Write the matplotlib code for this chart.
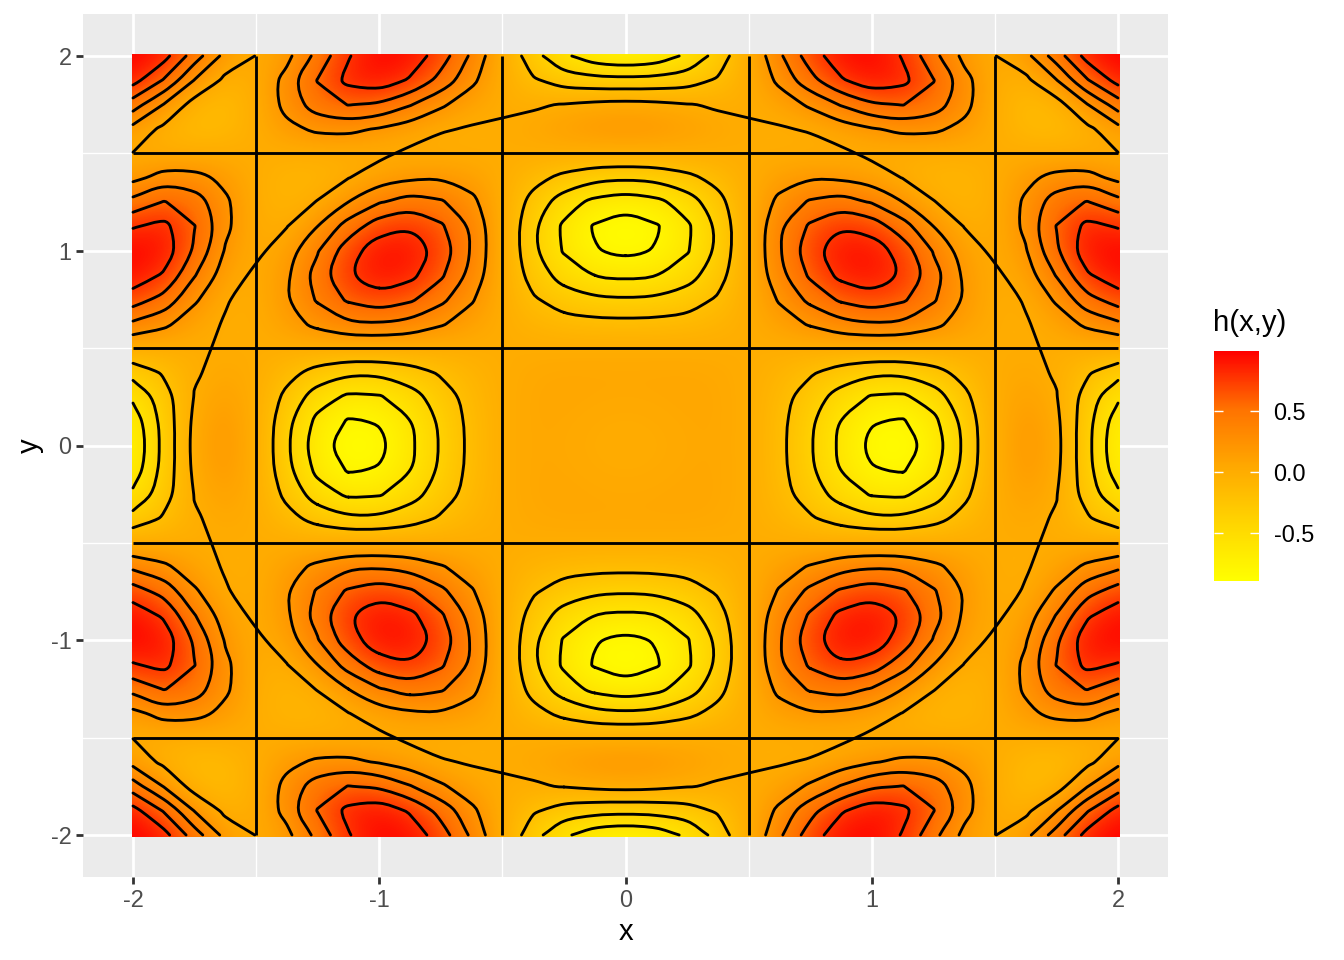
import numpy as np
import matplotlib
matplotlib.use("Agg")
import matplotlib.pyplot as plt
from matplotlib.colors import LinearSegmentedColormap, Normalize
from matplotlib.patches import Rectangle, PathPatch
from matplotlib.path import Path
from matplotlib.cm import ScalarMappable

plt.rcParams['font.family'] = ['Liberation Sans', 'DejaVu Sans']
plt.rcParams['axes.unicode_minus'] = False

# Surface estimates for the quadrant x>=0, y>=0 (rows: y, columns: x), step 0.125
grid_pos = [0, .125, .25, .375, .5, .625, .75, .875, 1, 1.125, 1.25, 1.375, 1.5, 1.625, 1.75, 1.875, 2]
h_quadrant = [
 [0,.014,.044,.054,0,-.146,-.377,-.640,-.841,-.881,-.707,-.363,0,.184,.056,-.338,-.757],
 [.014,.027,.051,.055,0,-.140,-.357,-.601,-.785,-.818,-.653,-.334,0,.165,.041,-.324,-.708],
 [.044,.051,.062,.055,0,-.118,-.293,-.481,-.618,-.634,-.499,-.251,0,.115,.008,-.276,-.563],
 [.054,.055,.055,.041,0,-.074,-.175,-.278,-.348,-.349,-.268,-.131,0,.052,-.017,-.174,-.322],
 [0,0,0,0,0,0,0,0,0,0,0,0,0,0,0,0,0],
 [-.146,-.140,-.118,-.074,0,.103,.221,.324,.377,.352,.251,.111,0,-.016,.083,.245,.363],
 [-.377,-.357,-.293,-.175,0,.221,.451,.634,.707,.632,.425,.172,0,.017,.232,.526,.699],
 [-.640,-.601,-.481,-.278,0,.324,.634,.853,.906,.765,.475,.165,0,.092,.414,.775,.923],
 [-.841,-.785,-.618,-.348,0,.377,.707,.906,.909,.709,.386,.095,0,.183,.563,.906,.959],
 [-.881,-.818,-.634,-.349,0,.352,.632,.765,.709,.488,.201,-.005,0,.245,.606,.851,.786],
 [-.707,-.653,-.499,-.268,0,.251,.425,.475,.386,.201,.008,-.083,0,.236,.498,.610,.467],
 [-.363,-.334,-.251,-.131,0,.111,.172,.165,.095,-.005,-.083,-.087,0,.144,.263,.272,.147],
 [0,0,0,0,0,0,0,0,0,0,0,0,0,0,0,0,0],
 [.184,.165,.115,.052,0,-.016,.017,.092,.183,.245,.236,.144,0,-.123,-.148,-.045,.134],
 [.056,.041,.008,-.017,0,.083,.232,.414,.563,.606,.498,.263,0,-.148,-.079,.190,.497],
 [-.338,-.324,-.276,-.174,0,.245,.526,.775,.906,.851,.610,.272,0,-.045,.190,.581,.872],
 [-.757,-.708,-.563,-.322,0,.363,.699,.923,.959,.786,.467,.147,0,.134,.497,.872,.989],
]
contour_levels = [-.8, -.6, -.4, -.2, .2, .4, .6, .8]
zero_lines = [-1.5, -.5, .5, 1.5]  # straight parts of the 0 contour
fill_limits = [-.89, .99]
x_ticks = [-2, -1, 0, 1, 2]
x_minor = [-1.5, -.5, .5, 1.5]
legend_ticks = [-.5, 0, .5]
legend_labels = ['-0.5', '0.0', '0.5']

q = np.array(h_quadrant)
z = np.vstack([q[:0:-1], q])
z = np.hstack([z[:, :0:-1], z])
gp = np.array(grid_pos)
coord = np.concatenate([-gp[:0:-1], gp])

W, H = 1344, 960
fig = plt.figure(figsize=(W / 100, H / 100), dpi=100, facecolor='white')
def axes_px(l, t, r, b):
    return fig.add_axes([l / W, 1 - b / H, (r - l) / W, (b - t) / H])

ax = axes_px(83, 14, 1168, 877)
ax.set_facecolor('#EBEBEB')
XL, YL = 2.203, 2.2157
for s in ax.spines.values():
    s.set_visible(False)

cmap = LinearSegmentedColormap.from_list('yr', [
    (0, '#FFFF00'), (.25, '#FFD500'), (.5, '#FFA800'), (.75, '#FF7200'), (1, '#FF0000')])
norm = Normalize(*fill_limits)

ax.set_xticks(x_ticks)
ax.set_yticks(x_ticks)
ax.set_xticks(x_minor, minor=True)
ax.set_yticks(x_minor, minor=True)
ax.grid(True, which='major', color='white', lw=2.0, zorder=1)
ax.grid(True, which='minor', color='white', lw=1.0, zorder=1)
ax.set_axisbelow(True)
ax.tick_params(which='minor', length=0)
ax.tick_params(which='major', length=5.3, width=2.0, color='#333333',
               labelcolor='#4D4D4D', labelsize=16.9, pad=3)

step = gp[1] - gp[0]
im = ax.imshow(z, origin='lower', extent=[-2 - step / 2, 2 + step / 2, -2 - step / 2, 2 + step / 2],
               cmap=cmap, norm=norm, interpolation='bicubic', aspect='auto', zorder=2)
im.set_clip_path(Rectangle((-2.005, -2.012), 4.01, 4.024, transform=ax.transData))

LW = 2.05
def rounded_path(seg):
    """Draw a contour polyline with rounded joins; the vertices stay those of the library."""
    keep = [seg[0]]
    for p in seg[1:]:
        if np.hypot(*(p - keep[-1])) > 2e-3:
            keep.append(p)
    pts = np.array(keep)
    closed = np.hypot(*(seg[0] - seg[-1])) < 1e-9 and len(pts) > 3
    if closed and np.hypot(*(pts[0] - pts[-1])) < 2e-3:
        pts = pts[:-1]
    n = len(pts)
    if n < 2:
        return None
    tang = np.zeros_like(pts)
    for i in range(n):
        a = pts[(i - 1) % n] if (closed or i > 0) else pts[i]
        b = pts[(i + 1) % n] if (closed or i < n - 1) else pts[i]
        d = b - a
        tang[i] = d / max(np.hypot(*d), 1e-9)
    verts, codes = [pts[0]], [Path.MOVETO]
    for i in range(n if closed else n - 1):
        j = (i + 1) % n
        L = np.hypot(*(pts[j] - pts[i])) / 3
        verts += [pts[i] + tang[i] * L, pts[j] - tang[j] * L, pts[j]]
        codes += [Path.CURVE4] * 3
    return Path(np.array(verts), codes)

def draw_segments(cs, min_extent=0):
    cs.set_visible(False)
    for segs in cs.allsegs:
        for seg in segs:
            seg = np.asarray(seg)
            if np.abs(seg).max() < min_extent:
                continue
            p = rounded_path(seg)
            if p is not None:
                ax.add_patch(PathPatch(p, fc='none', ec='black', lw=LW, capstyle='round',
                                       joinstyle='round', zorder=3))

draw_segments(ax.contour(coord, coord, z, levels=contour_levels, colors='black'))

# 0 contour: straight lines along the zero rows and columns, plus the ring traced
# from the table without those rows and columns, with each region's sign made equal
keep = ~np.isin(coord, zero_lines)
sign = np.where((np.abs(coord) > .5) & (np.abs(coord) < 1.5), -1.0, 1.0)
ring = (z * np.outer(sign, sign))[np.ix_(keep, keep)]
draw_segments(ax.contour(coord[keep], coord[keep], ring, levels=[0], colors='black'), min_extent=1)
ax.vlines(zero_lines, -2, 2, color='black', lw=LW, zorder=3)
ax.hlines(zero_lines, -2, 2, color='black', lw=LW, zorder=3)

ax.set_xlim(-XL, XL)
ax.set_ylim(-YL, YL)
ax.set_xlabel('x', fontsize=21.1, color='black', labelpad=5)
ax.set_ylabel('y', fontsize=21.1, color='black', labelpad=5)

cax = axes_px(1214, 351, 1259, 581)
cb = fig.colorbar(ScalarMappable(norm=norm, cmap=cmap), cax=cax)
cb.outline.set_visible(False)
cb.set_ticks(legend_ticks, labels=legend_labels)
cax.tick_params(length=0, labelsize=16.9, labelcolor='black', pad=10.5)
for v in legend_ticks:
    cax.plot([0, .2], [v, v], color='white', lw=1.0, solid_capstyle='butt')
    cax.plot([.8, 1], [v, v], color='white', lw=1.0, solid_capstyle='butt')
fig.text(1213 / W, 1 - 323 / H, 'h(x,y)', fontsize=21.1, color='black', ha='left', va='center')

fig.savefig('out.png', dpi=100)
